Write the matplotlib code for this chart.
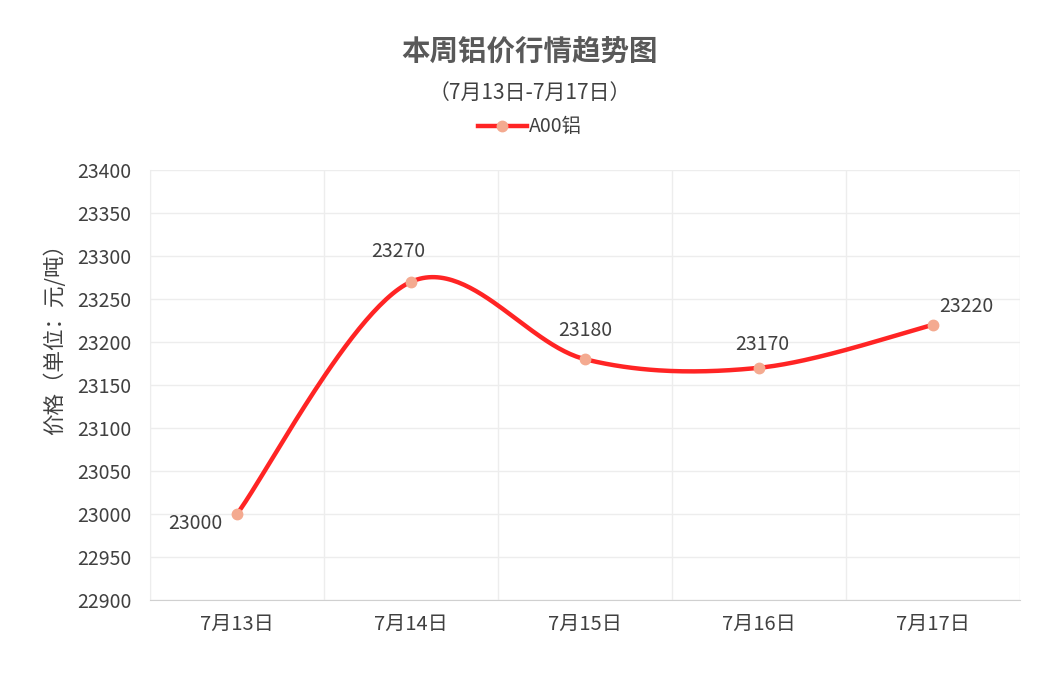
import numpy as np
import matplotlib
matplotlib.use("Agg")
import matplotlib.pyplot as plt
from matplotlib.lines import Line2D

plt.rcParams['font.family'] = ['Noto Sans CJK SC', 'DejaVu Sans']

dates = ["7月13日", "7月14日", "7月15日", "7月16日", "7月17日"]
prices = [23000, 23270, 23180, 23170, 23220]
series_name = "A00铝"

line_col = "#FF2424"
marker_col = "#F4AA90"
text_col = "#404040"


def smooth(xs, ys, n=60):
    # Excel 风格平滑线 (Catmull-Rom -> Bezier)
    pts = np.column_stack([xs, ys]).astype(float)
    pts = np.vstack([pts[0], pts, pts[-1]])
    out = []
    for i in range(1, len(pts) - 2):
        p0, p1, p2, p3 = pts[i - 1], pts[i], pts[i + 1], pts[i + 2]
        c1 = p1 + (p2 - p0) / 6
        c2 = p2 - (p3 - p1) / 6
        t = np.linspace(0, 1, n)[:, None]
        seg = ((1 - t) ** 3) * p1 + 3 * ((1 - t) ** 2) * t * c1 + 3 * (1 - t) * t ** 2 * c2 + t ** 3 * p2
        out.append(seg)
    out = np.vstack(out)
    return out[:, 0], out[:, 1]


fig = plt.figure(figsize=(10.6, 6.87), dpi=100)
ax = fig.add_axes([150 / 1060, 1 - 600 / 687, 870 / 1060, 430 / 687])

x = np.arange(len(dates))
sx, sy = smooth(x, prices)
ax.plot(sx, sy, color=line_col, lw=3.2, solid_capstyle="round", zorder=3)
ax.plot(x, prices, "o", color=marker_col, ms=7.5, zorder=4)

ax.set_xlim(-0.5, len(dates) - 0.5)
ax.set_ylim(22900, 23400)
ax.set_yticks(np.arange(22900, 23401, 50))
ax.set_xticks(x)
ax.set_xticklabels(dates)
ax.set_xticks(np.arange(-0.5, len(dates)), minor=True)
ax.grid(True, axis="y", color="#EDEDED", lw=1)
ax.grid(True, axis="x", which="minor", color="#EDEDED", lw=1)
ax.tick_params(axis="y", which="both", length=0, labelsize=14, labelcolor=text_col, pad=13.5)
ax.tick_params(axis="x", which="both", length=0, labelsize=14.5, labelcolor=text_col, pad=10)
for s in ["top", "right"]:
    ax.spines[s].set_visible(False)
ax.spines["left"].set_color("#EDEDED")
ax.spines["bottom"].set_color("#D0D0D0")
ax.set_axisbelow(True)

ax.set_ylabel("价格（单位：元/吨）", fontsize=15.5, color=text_col)
ax.yaxis.set_label_coords(-84 / 870, (600 - 334) / 430)

# 数据标签 (偏移单位: 点)
offsets = [(-30, -7), (-9, 22), (0, 21), (2, 17), (24, 13)]
for xi, yi, (dx, dy) in zip(x, prices, offsets):
    ax.annotate(str(yi), (xi, yi), xytext=(dx, dy), textcoords="offset points",
                ha="center", va="center", fontsize=14, color=text_col)

fig.text(0.5, 1 - 52 / 687, "本周铝价行情趋势图", ha="center", va="center",
         fontsize=20.5, fontweight="bold", color="#595959")
fig.text(0.5, 1 - 93 / 687, "（7月13日-7月17日）", ha="center", va="center",
         fontsize=15, color=text_col)

handle = Line2D([], [], color=line_col, lw=3.2, marker="o", ms=7.5,
                markerfacecolor=marker_col, markeredgecolor=marker_col)
fig.legend([handle], [series_name], loc="center", bbox_to_anchor=(0.5, 1 - 127 / 687),
           frameon=False, fontsize=14, handlelength=2.5, handletextpad=0.1,
           labelcolor=text_col)

fig.savefig("out.png", dpi=100, facecolor="white")
